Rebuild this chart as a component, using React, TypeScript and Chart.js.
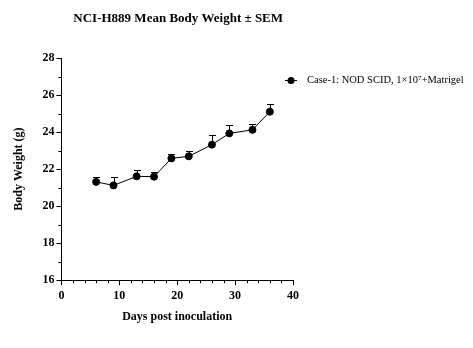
import React, { useEffect, useRef } from "react";
import { Chart, registerables } from "chart.js";
Chart.register(...registerables);

const days = [6, 9, 13, 16, 19, 22, 26, 29, 33, 36];
const meanWeight = [21.31, 21.12, 21.61, 21.59, 22.58, 22.69, 23.32, 23.93, 24.12, 25.1];
const semWeight = [0.24, 0.43, 0.32, 0.23, 0.21, 0.27, 0.52, 0.45, 0.29, 0.4];
const xTicks = [0, 10, 20, 30, 40];
const yTicks = [16, 18, 20, 22, 24, 26, 28];
const xMinorTicks = [2, 4, 6, 8, 12, 14, 16, 18, 22, 24, 26, 28, 32, 34, 36, 38];
const yMinorTicks = [17, 19, 21, 23, 25, 27];
const titleText = "NCI-H889 Mean Body Weight ± SEM";
const seriesLabel = "Case-1: NOD SCID, 1×10⁷+Matrigel";
const xTitle = "Days post inoculation";
const yTitle = "Body Weight (g)";

const FONT = "'Liberation Serif', 'Times New Roman', serif";

const errorBarPlugin = {
  id: "errorBars",
  afterDatasetsDraw(chart: any) {
    const { ctx, scales } = chart;
    const x = scales.x, y = scales.y;
    ctx.save();
    ctx.strokeStyle = "#000";
    ctx.lineWidth = 1;
    days.forEach((d, i) => {
      const px = Math.round(x.getPixelForValue(d)) + 0.5;
      const py0 = y.getPixelForValue(meanWeight[i]);
      const py1 = Math.round(y.getPixelForValue(meanWeight[i] + semWeight[i])) + 0.5;
      ctx.beginPath();
      ctx.moveTo(px, py0);
      ctx.lineTo(px, py1);
      ctx.moveTo(px - 3.5, py1);
      ctx.lineTo(px + 3.5, py1);
      ctx.stroke();
    });
    ctx.restore();
  },
};

const minorTickPlugin = {
  id: "minorTicks",
  afterDraw(chart: any) {
    const { ctx, scales, chartArea } = chart;
    ctx.save();
    ctx.strokeStyle = "#000";
    ctx.lineWidth = 1;
    ctx.beginPath();
    yMinorTicks.forEach((v) => {
      const py = Math.round(scales.y.getPixelForValue(v)) + 0.5;
      ctx.moveTo(chartArea.left, py);
      ctx.lineTo(chartArea.left - 3, py);
    });
    xMinorTicks.forEach((v) => {
      const px = Math.round(scales.x.getPixelForValue(v)) + 0.5;
      ctx.moveTo(px, chartArea.bottom);
      ctx.lineTo(px, chartArea.bottom + 3);
    });
    ctx.stroke();
    ctx.restore();
  },
};

const titleLegendPlugin = {
  id: "titleLegend",
  afterDraw(chart: any) {
    const { ctx, chartArea } = chart;
    ctx.save();
    ctx.fillStyle = "#000";
    ctx.font = `bold 13px ${FONT}`;
    ctx.textAlign = "center";
    ctx.textBaseline = "middle";
    ctx.fillText(titleText, (chartArea.left + chartArea.right) / 2 + 1, chartArea.top - 39);

    const ly = chartArea.top + 22;
    const mx = chartArea.right - 2;
    ctx.strokeStyle = "#000";
    ctx.lineWidth = 1;
    ctx.beginPath();
    ctx.moveTo(mx - 6, ly + 0.5);
    ctx.lineTo(mx + 6, ly + 0.5);
    ctx.stroke();
    ctx.beginPath();
    ctx.arc(mx, ly + 0.5, 3.5, 0, Math.PI * 2);
    ctx.fill();
    ctx.font = `10.5px ${FONT}`;
    ctx.textAlign = "left";
    ctx.fillText(seriesLabel, chartArea.right + 14, ly);
    ctx.restore();
  },
};

export default function App() {
  const ref = useRef<HTMLCanvasElement | null>(null);
  useEffect(() => {
    if (!ref.current) return;
    const tickFont = { family: FONT, size: 12, weight: "bold" as const };
    const chart = new Chart(ref.current, {
      type: "line",
      data: {
        datasets: [
          {
            label: seriesLabel,
            data: days.map((d, i) => ({ x: d, y: meanWeight[i] })),
            borderColor: "#000",
            backgroundColor: "#000",
            borderWidth: 1,
            pointRadius: 3.5,
            pointBackgroundColor: "#000",
            pointBorderColor: "#000",
            tension: 0,
          },
        ],
      },
      options: {
        animation: false,
        responsive: true,
        maintainAspectRatio: false,
        layout: { padding: { left: 12, top: 58, right: 180, bottom: 24 } },
        plugins: {
          legend: { display: false },
          title: { display: false },
          tooltip: { enabled: false },
        },
        scales: {
          x: {
            type: "linear",
            min: 0,
            max: 40,
            afterBuildTicks: (s: any) => {
              s.ticks = xTicks.map((v) => ({ value: v }));
            },
            ticks: { font: tickFont, color: "#000", padding: 4, maxRotation: 0 },
            grid: { drawOnChartArea: false, drawTicks: true, tickLength: 5, tickColor: "#000", color: "#000" },
            border: { display: true, color: "#000", width: 1 },
            title: { display: true, text: xTitle, font: tickFont, color: "#000", padding: { top: 2, bottom: 0 } },
          },
          y: {
            type: "linear",
            min: 16,
            max: 28,
            afterBuildTicks: (s: any) => {
              s.ticks = yTicks.map((v) => ({ value: v }));
            },
            ticks: { font: tickFont, color: "#000", padding: 2 },
            grid: { drawOnChartArea: false, drawTicks: true, tickLength: 5, tickColor: "#000", color: "#000" },
            border: { display: true, color: "#000", width: 1 },
            title: { display: true, text: yTitle, font: tickFont, color: "#000", padding: { top: 0, bottom: 14 } },
          },
        },
      },
      plugins: [errorBarPlugin, minorTickPlugin, titleLegendPlugin],
    } as any);
    return () => chart.destroy();
  }, []);
  return (
    <div style={{ position: "fixed", left: 0, top: 0, width: 473, height: 348, background: "#fff" }}>
      <canvas ref={ref} />
    </div>
  );
}
